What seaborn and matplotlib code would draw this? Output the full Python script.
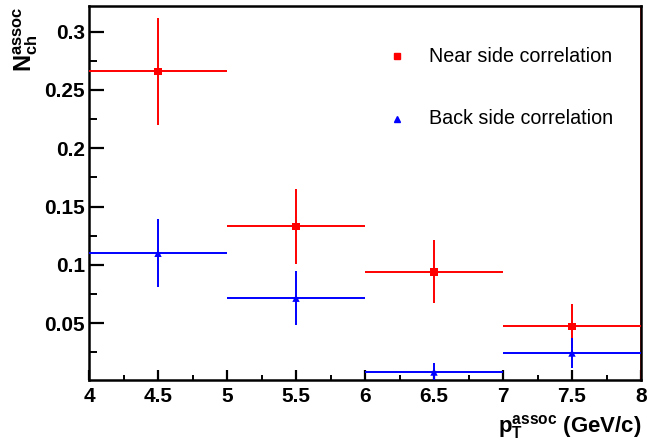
import matplotlib
matplotlib.use("Agg")
import matplotlib.pyplot as plt
from matplotlib.ticker import MultipleLocator
import seaborn as sns
import pandas as pd

# Associated-particle yield per pT bin
bin_centers = [4.5, 5.5, 6.5, 7.5]
bin_half_width = [0.5, 0.5, 0.5, 0.5]
near_yield = [0.266, 0.133, 0.094, 0.0475]
near_err = [0.046, 0.032, 0.027, 0.019]
back_yield = [0.110, 0.0715, 0.0082, 0.0245]
back_err = [0.029, 0.023, 0.008, 0.013]

near_label = "Near side correlation"
back_label = "Back side correlation"
xticks = [4, 4.5, 5, 5.5, 6, 6.5, 7, 7.5, 8]
yticks = [0.05, 0.1, 0.15, 0.2, 0.25, 0.3]
ytick_labels = ["0.05", "0.1", "0.15", "0.2", "0.25", "0.3"]

sns.set_style("ticks")
plt.rcParams["font.family"] = ["Liberation Sans", "DejaVu Sans"]
plt.rcParams["text.color"] = "black"
plt.rcParams["xtick.color"] = "black"
plt.rcParams["ytick.color"] = "black"
plt.rcParams["xtick.labelcolor"] = "black"
plt.rcParams["ytick.labelcolor"] = "black"
plt.rcParams["mathtext.fontset"] = "custom"
plt.rcParams["mathtext.rm"] = "Liberation Sans:bold"
plt.rcParams["mathtext.bf"] = "Liberation Sans:bold"
plt.rcParams["mathtext.it"] = "Liberation Sans:bold"

df = pd.DataFrame({
    "pt": bin_centers * 2,
    "yield": near_yield + back_yield,
    "side": [near_label] * 4 + [back_label] * 4,
})

fig = plt.figure(figsize=(6.47, 4.46), dpi=100)
ax = fig.add_axes([89 / 647, 66 / 446, 552 / 647, 374 / 446])

RED = "#ff0000"
BLUE = "#0000ff"

ax.errorbar(bin_centers, near_yield, xerr=bin_half_width, yerr=near_err,
            fmt="none", ecolor=RED, elinewidth=1.4, capsize=0, zorder=3)
ax.errorbar(bin_centers, back_yield, xerr=bin_half_width, yerr=back_err,
            fmt="none", ecolor=BLUE, elinewidth=1.4, capsize=0, zorder=3)

sns.scatterplot(data=df, x="pt", y="yield", hue="side", style="side",
                palette={near_label: RED, back_label: BLUE},
                markers={near_label: "s", back_label: "^"},
                s=28, linewidth=0, legend=False, ax=ax, zorder=4)

ax.axvline(8, color=RED, lw=1.2, zorder=2)

ax.set_xlim(4, 8)
ax.set_ylim(0.0014, 0.322)
ax.set_xticks(xticks)
ax.set_xticklabels([f"{t:g}" for t in xticks])
ax.set_yticks(yticks)
ax.set_yticklabels(ytick_labels)
ax.xaxis.set_minor_locator(MultipleLocator(0.25))
ax.yaxis.set_minor_locator(MultipleLocator(0.025))
ax.tick_params(axis="both", which="major", direction="in", labelsize=15,
               width=1.6, color="black", labelcolor="black")
ax.tick_params(axis="x", which="major", length=7, pad=5)
ax.tick_params(axis="y", which="major", length=11, pad=3)
ax.tick_params(axis="x", which="minor", direction="in", length=3.5, width=1.4)
ax.tick_params(axis="y", which="minor", direction="in", length=5.5, width=1.4)
for lab in ax.get_xticklabels() + ax.get_yticklabels():
    lab.set_fontweight("bold")
for sp in ax.spines.values():
    sp.set_linewidth(1.8)
    sp.set_color("black")
ax.set_xlabel("")
ax.set_ylabel("")

# Axis titles
fig.text(641 / 647, 1 - 432 / 446, r"$\mathbf{p_{T}^{assoc}}$ (GeV/c)",
         ha="right", va="baseline", fontsize=16, fontweight="bold",
         color="black")
fig.text(11 / 647, 1 - 6 / 446, r"$\mathbf{N_{ch}^{assoc}}$",
         ha="left", va="top", rotation=90, fontsize=17, fontweight="bold",
         color="black")

# Key
key_x = (397 - 89) / 552
text_x = (429 - 89) / 552
near_y = (380 - 56) / 374
back_y = (380 - 119) / 374
ax.plot(key_x, near_y, marker="s", ms=5, color=RED, transform=ax.transAxes,
        ls="none", clip_on=False)
ax.plot(key_x, back_y, marker="^", ms=5, color=BLUE, transform=ax.transAxes,
        ls="none", clip_on=False)
ax.text(text_x, near_y, near_label, transform=ax.transAxes, fontsize=14.2,
        va="center", ha="left", color="black")
ax.text(text_x, back_y, back_label, transform=ax.transAxes, fontsize=14.2,
        va="center", ha="left", color="black")

fig.savefig("out.png", dpi=100)
